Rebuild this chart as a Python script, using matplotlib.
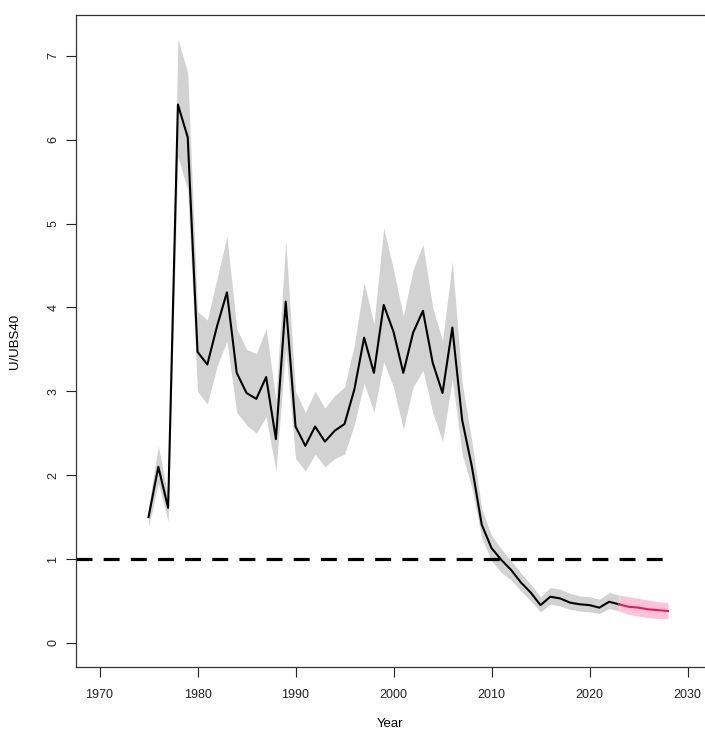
import matplotlib
matplotlib.use("Agg")
import matplotlib.pyplot as plt

plt.rcParams['font.family'] = ['Liberation Sans', 'DejaVu Sans']

# historical estimate of U/UBS40 with its interval
years = list(range(1975, 2024))
ratio = [1.50, 2.10, 1.61, 6.42, 6.03, 3.47, 3.32, 3.78, 4.18, 3.22,
         2.98, 2.91, 3.17, 2.43, 4.07, 2.58, 2.35, 2.58, 2.40, 2.53,
         2.61, 3.02, 3.64, 3.22, 4.03, 3.71, 3.22, 3.70, 3.96, 3.34,
         2.98, 3.76, 2.66, 2.10, 1.41, 1.13, 0.99, 0.87, 0.72, 0.60,
         0.45, 0.55, 0.53, 0.48, 0.46, 0.45, 0.42, 0.49, 0.46]
upper = [1.62, 2.35, 1.75, 7.20, 6.80, 3.95, 3.85, 4.35, 4.85, 3.75,
         3.50, 3.45, 3.75, 2.90, 4.80, 3.00, 2.75, 3.00, 2.80, 2.95,
         3.05, 3.55, 4.30, 3.80, 4.95, 4.45, 3.90, 4.45, 4.75, 4.00,
         3.60, 4.55, 3.10, 2.40, 1.60, 1.28, 1.12, 0.98, 0.83, 0.70,
         0.55, 0.66, 0.64, 0.59, 0.56, 0.55, 0.52, 0.60, 0.57]
lower = [1.38, 1.90, 1.45, 5.80, 5.40, 3.00, 2.85, 3.30, 3.60, 2.75,
         2.60, 2.50, 2.70, 2.05, 3.50, 2.20, 2.05, 2.25, 2.10, 2.20,
         2.25, 2.60, 3.10, 2.75, 3.35, 3.05, 2.55, 3.05, 3.25, 2.75,
         2.40, 3.15, 2.25, 1.85, 1.25, 0.98, 0.84, 0.75, 0.62, 0.50,
         0.37, 0.46, 0.44, 0.40, 0.38, 0.37, 0.35, 0.41, 0.38]

# projection
proj_years = [2023, 2024, 2025, 2026, 2027, 2028]
proj_ratio = [0.46, 0.43, 0.42, 0.40, 0.39, 0.38]
proj_upper = [0.57, 0.55, 0.53, 0.51, 0.49, 0.48]
proj_lower = [0.38, 0.34, 0.32, 0.30, 0.29, 0.29]

ref_level = 1.0
ref_span = [1967.6, 2028]

fig = plt.figure(figsize=(7.05, 7.31), dpi=100)
ax = fig.add_axes([76/705, 64/731, 640/705, 652/731])

ax.fill_between(years, lower, upper, color='#d2d2d2', lw=0)
ax.fill_between(proj_years, proj_lower, proj_upper, color='#ffc2d6', lw=0)
ax.plot(years, ratio, color='black', lw=1.5)
ax.plot(proj_years, proj_ratio, color='#e8195e', lw=1.5)
ax.plot(ref_span, [ref_level, ref_level], color='black', lw=2.3,
        linestyle=(0, (5, 3.5)))

# keep 1970..2030 ticks at the same pixels while the box runs off the right edge
ax.set_xlim(1967.6, 1967.6 + 640 / 9.8)
ax.set_ylim(-0.288, 7.488)
ax.set_xticks(range(1970, 2031, 10))
ax.set_yticks(range(0, 8))
ax.tick_params(direction='out', length=7, width=0.8, labelsize=9, colors='#222222')
ax.tick_params(axis='y', pad=5)
ax.tick_params(axis='x', pad=9)
for lab in ax.get_yticklabels():
    lab.set_rotation(90)
    lab.set_va('center')
for s in ax.spines.values():
    s.set_linewidth(0.9)
    s.set_color('#333333')
ax.spines['right'].set_visible(False)

ax.set_xlabel('Year', fontsize=9.5)
ax.set_ylabel('U/UBS40', fontsize=9.5)
ax.xaxis.set_label_coords((390 - 76) / 640, -0.078)
ax.yaxis.set_label_coords((21 - 76) / 640, 0.5)

fig.savefig('out.png', dpi=100)
